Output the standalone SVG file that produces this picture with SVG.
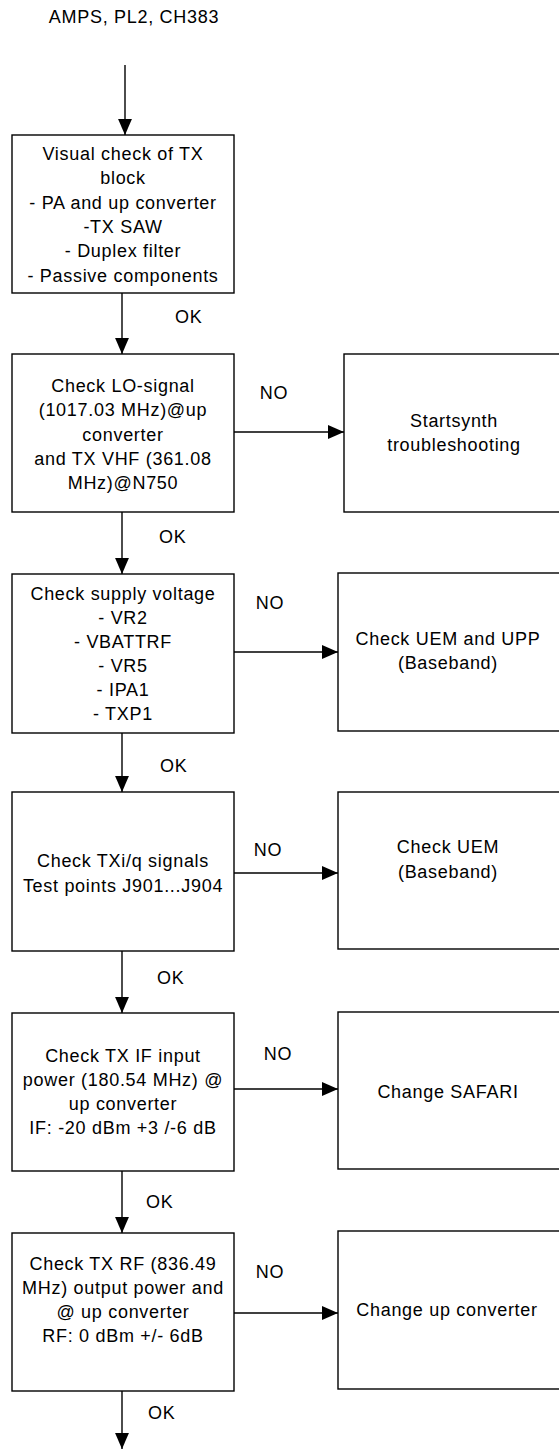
<svg xmlns="http://www.w3.org/2000/svg" width="559" height="1449" viewBox="0 0 559 1449">
<style>
  .box { fill: #fff; stroke: #000; stroke-width: 1.4; }
  .t { font-family: "Liberation Sans", Arial, sans-serif; font-size: 18px; letter-spacing: 0.7px; fill: #000; text-anchor: middle; }
  .lbl { font-family: "Liberation Sans", Arial, sans-serif; font-size: 18px; letter-spacing: 0.7px; fill: #000; }
  .c { stroke: #000; stroke-width: 1.4; fill: none; marker-end: url(#ah); }
</style>
<defs>
  <marker id="ah" markerUnits="userSpaceOnUse" markerWidth="16" markerHeight="14" refX="15" refY="6.5" orient="auto" viewBox="0 0 15 13">
    <path d="M0,0 L15,6.5 L0,13 z" fill="#000"/>
  </marker>
</defs>
<rect width="559" height="1449" fill="#fff"/>

<g id="title">
  <text class="t" x="134" y="23">AMPS, PL2, CH383</text>
</g>

<g id="connectors">
  <line class="c" x1="125" y1="65" x2="125" y2="135"/>
  <line class="c" x1="122" y1="293" x2="122" y2="354"/>
  <line class="c" x1="234" y1="432" x2="344" y2="432"/>
  <line class="c" x1="122" y1="512" x2="122" y2="574"/>
  <line class="c" x1="234" y1="652" x2="338" y2="652"/>
  <line class="c" x1="122" y1="733" x2="122" y2="792"/>
  <line class="c" x1="234" y1="873" x2="338" y2="873"/>
  <line class="c" x1="122" y1="951" x2="122" y2="1013"/>
  <line class="c" x1="234" y1="1089" x2="338" y2="1089"/>
  <line class="c" x1="122" y1="1171" x2="122" y2="1233"/>
  <line class="c" x1="234" y1="1313" x2="338" y2="1313"/>
  <line class="c" x1="122" y1="1391" x2="122" y2="1449"/>
  <text class="lbl" x="175" y="323">OK</text>
  <text class="lbl" x="159" y="543">OK</text>
  <text class="lbl" x="160" y="772">OK</text>
  <text class="lbl" x="157" y="984">OK</text>
  <text class="lbl" x="146" y="1208">OK</text>
  <text class="lbl" x="148" y="1419">OK</text>
  <text class="t" x="274" y="399">NO</text>
  <text class="t" x="270" y="609">NO</text>
  <text class="t" x="268" y="856">NO</text>
  <text class="t" x="278" y="1060">NO</text>
  <text class="t" x="270" y="1278">NO</text>
</g>

<g id="visual-check">
  <rect class="box" x="12" y="135" width="222" height="158"/>
  <text class="t" x="123" y="160">Visual check of TX</text>
  <text class="t" x="123" y="184.3">block</text>
  <text class="t" x="123" y="208.6">- PA and up converter</text>
  <text class="t" x="123" y="232.9">-TX SAW</text>
  <text class="t" x="123" y="257.2">- Duplex filter</text>
  <text class="t" x="123" y="281.5">- Passive components</text>
</g>

<g id="check-lo">
  <rect class="box" x="12" y="354" width="222" height="158"/>
  <text class="t" x="123" y="392">Check LO-signal</text>
  <text class="t" x="123" y="416.3">(1017.03 MHz)@up</text>
  <text class="t" x="123" y="440.6">converter</text>
  <text class="t" x="123" y="465">and TX VHF (361.08</text>
  <text class="t" x="123" y="489.2">MHz)@N750</text>
</g>

<g id="synth">
  <rect class="box" x="344" y="354" width="222" height="158"/>
  <text class="t" x="454" y="427">Startsynth</text>
  <text class="t" x="454" y="451">troubleshooting</text>
</g>

<g id="check-supply">
  <rect class="box" x="12" y="574" width="222" height="159"/>
  <text class="t" x="123" y="600">Check supply voltage</text>
  <text class="t" x="123" y="624">- VR2</text>
  <text class="t" x="123" y="648">- VBATTRF</text>
  <text class="t" x="123" y="672">- VR5</text>
  <text class="t" x="123" y="696">- IPA1</text>
  <text class="t" x="123" y="720">- TXP1</text>
</g>

<g id="uem-upp">
  <rect class="box" x="338" y="573" width="230" height="158"/>
  <text class="t" x="448" y="645">Check UEM and UPP</text>
  <text class="t" x="448" y="669">(Baseband)</text>
</g>

<g id="check-txiq">
  <rect class="box" x="12" y="792" width="222" height="159"/>
  <text class="t" x="123" y="867">Check TXi/q signals</text>
  <text class="t" x="123" y="891.5">Test points J901...J904</text>
</g>

<g id="uem">
  <rect class="box" x="338" y="792" width="230" height="157"/>
  <text class="t" x="448" y="853">Check UEM</text>
  <text class="t" x="448" y="877.5">(Baseband)</text>
</g>

<g id="check-if">
  <rect class="box" x="12" y="1013" width="222" height="158"/>
  <text class="t" x="123" y="1062">Check TX IF input</text>
  <text class="t" x="123" y="1086">power (180.54 MHz) @</text>
  <text class="t" x="123" y="1110">up converter</text>
  <text class="t" x="123" y="1134">IF: -20 dBm +3 /-6 dB</text>
</g>

<g id="safari">
  <rect class="box" x="338" y="1012" width="230" height="157"/>
  <text class="t" x="448" y="1098">Change SAFARI</text>
</g>

<g id="check-rf">
  <rect class="box" x="12" y="1233" width="222" height="158"/>
  <text class="t" x="123" y="1270">Check TX RF (836.49</text>
  <text class="t" x="123" y="1294">MHz) output power and</text>
  <text class="t" x="123" y="1318">@ up converter</text>
  <text class="t" x="123" y="1342">RF: 0 dBm +/- 6dB</text>
</g>

<g id="upconv">
  <rect class="box" x="338" y="1231" width="230" height="158"/>
  <text class="t" x="447" y="1316">Change up converter</text>
</g>
</svg>
